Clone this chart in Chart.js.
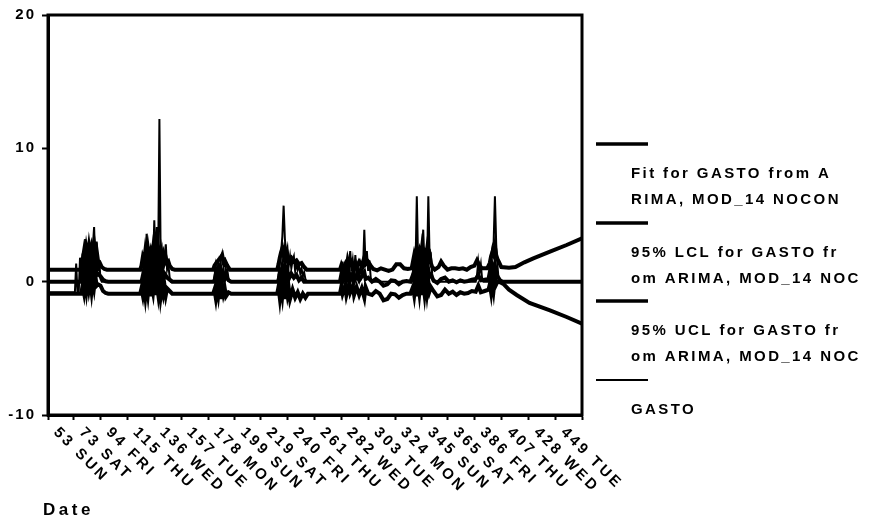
<!DOCTYPE html>
<html>
<head>
<meta charset="utf-8">
<script src="https://cdn.jsdelivr.net/npm/chart.js@4/dist/chart.umd.min.js"></script>
<style>
  body { margin: 0; background: #fff; }
</style>
</head>
<body>
<canvas id="grafico" width="889" height="524"></canvas>
<script>
// x ticks (day index + weekday)
const tickDays = [53, 73, 94, 115, 136, 157, 178, 199, 219, 240, 261, 282, 303, 324, 345, 365, 386, 407, 428, 449];
const tickLabels = ["53 SUN", "73 SAT", "94 FRI", "115 THU", "136 WED", "157 TUE", "178 MON", "199 SUN", "219 SAT", "240 FRI",
                    "261 THU", "282 WED", "303 TUE", "324 MON", "345 SUN", "365 SAT", "386 FRI", "407 THU", "428 WED", "449 TUE"];
const xMin = 53, xMax = 470;
const yTicks = [-10, 0, 10, 20];

// [day, value]
const fitPts = [[53,0],[79,0],[80,0.6],[81,0.2],[82,1.0],[83,0.4],[84,1.1],[85,0.5],[86,0.9],[87,0.3],[88,1.1],[89,0.6],[90,1.2],[91,0.5],[92,0.6],[94,0.4],[96,0.15],[98,0.03],[100,0],
  [126,0],[127,0.4],[128,0.9],[129,0.2],[130,1.0],[131,0.3],[132,1.1],[133,0.4],[134,0.9],[135,0.3],[136,1.0],[137,0.2],[138,0.9],[139,0.4],[140,1.0],[141,0.3],[142,0.7],[143,0.2],[144,0.6],[146,0.3],[148,0.15],[150,0],
  [183,0],[184,0.5],[185,0.1],[186,0.7],[187,0.3],[188,0.8],[189,0.2],[190,0.6],[191,0.2],[192,0.4],[194,0.1],[196,0],
  [233,0],[234,0.6],[235,0.2],[236,1.0],[237,0.4],[238,1.0],[239,0.3],[240,0.8],[241,0.2],[243,0.6],[245,0.3],[247,0.5],[249,0.1],[251,0.3],[253,0],
  [281,0],[282,0.5],[283,0],[285,0.4],[286,0.1],[288,0.7],[289,0.1],[291,0.6],[292,0],[294,0.5],[296,0.1],[298,0.4],[300,0.7],[301,0.2],[303,0.3],[306,0],[309,0.2],[312,0],[315,-0.3],[318,-0.2],[321,0.1],[324,0.05],[327,-0.2],[330,0],[333,0.05],[336,0],
  [338,0.5],[339,0.1],[340,0.9],[341,0.3],[342,1.1],[343,0.4],[344,1.0],[345,0.3],[346,1.1],[347,0.5],[348,1.0],[349,0.4],[350,0.9],[351,0.4],[352,0.5],[354,0.1],[357,-0.1],[360,0.2],[363,0.3],[366,0],[369,0.1],[372,-0.05],[375,0.1],[378,0],[381,0.05],[384,0.15],[387,0.2],[389,0.5],[391,0.1],[394,0.15],[397,0.2],
  [398,0.7],[399,0.2],[400,1.0],[401,0.5],[402,1.2],[403,0.6],[404,0.4],[406,0.1],[408,0],[470,0]];

const lclPts = [[53,-0.9],[79,-0.9],[80,-0.3],[81,-0.8],[82,0.2],[83,-0.6],[84,0.3],[85,-0.5],[86,0.1],[87,-0.7],[88,0.2],[89,-0.4],[90,0.4],[91,-0.3],[92,-0.2],[94,-0.3],[96,-0.7],[98,-0.85],[100,-0.9],
  [125,-0.9],[126,-0.5],[127,-1.0],[128,-0.3],[129,-1.1],[130,-0.2],[131,-0.9],[132,0.1],[133,-1.1],[134,-0.3],[135,-0.8],[136,0.2],[137,-1.0],[138,-0.2],[139,-0.9],[140,0.1],[141,-1.1],[142,-0.4],[143,-0.9],[144,-0.3],[145,-1.0],[146,-0.5],[148,-0.7],[150,-0.9],
  [182,-0.9],[183,-0.6],[184,-1.2],[185,-0.4],[186,-1.0],[187,-0.2],[188,-1.3],[189,-0.3],[190,-0.9],[191,-0.5],[192,-1.1],[194,-0.8],[196,-0.9],
  [232,-0.9],[233,-0.4],[234,-1.2],[235,-0.3],[236,-1.0],[237,0],[238,-1.3],[239,-0.4],[240,-1.0],[241,-0.5],[242,-1.3],[244,-0.6],[246,-1.2],[248,-0.8],[250,-1.3],[252,-0.9],[254,-1.2],[256,-0.9],
  [281,-0.9],[282,-0.4],[283,-0.9],[285,-0.3],[286,-1.0],[288,-0.2],[289,-0.8],[291,-0.3],[292,-1.0],[294,-0.4],[296,-1.0],[298,-0.5],[300,-1.2],[301,-0.4],[303,-0.9],[306,-1.0],[309,-0.7],[312,-0.9],[315,-1.4],[318,-1.3],[321,-0.9],[324,-0.95],[327,-1.2],[330,-1.0],[333,-0.9],[336,-0.9],
  [338,-0.4],[339,-1.0],[340,-0.2],[341,-1.1],[342,0],[343,-0.8],[344,0.2],[345,-1.0],[346,-0.1],[347,-0.9],[348,0.1],[349,-0.8],[350,0],[351,-0.7],[352,-0.4],[354,-0.7],[357,-1.1],[360,-1.0],[363,-0.6],[366,-0.9],[369,-0.75],[372,-1.0],[375,-0.8],[378,-0.9],[381,-0.85],[384,-0.7],[387,-0.75],[389,-0.3],[391,-0.8],[394,-0.7],[397,-0.6],
  [398,-0.2],[399,-0.8],[400,0.1],[401,-0.6],[402,0.3],[403,-0.2],[404,0],[406,-0.05],[409,-0.2],[413,-0.6],[419,-1.0],[429,-1.6],[445,-2.15],[458,-2.65],[470,-3.15]];

const uclPts = [[53,0.9],[79,0.9],[80,1.6],[81,2.2],[82,1.5],[83,2.4],[84,1.8],[85,2.6],[86,1.9],[87,2.5],[88,2.0],[89,2.8],[90,2.0],[91,2.3],[92,1.6],[93,1.5],[95,1.1],[97,0.95],[99,0.9],
  [125,0.9],[126,1.2],[127,1.8],[128,1.5],[129,2.3],[130,1.7],[131,2.5],[132,1.8],[133,2.2],[134,1.6],[135,2.4],[136,1.7],[137,2.1],[138,1.6],[139,2.2],[140,1.5],[141,2.3],[142,1.6],[143,2.0],[144,1.5],[145,1.8],[146,1.4],[147,1.5],[148,1.2],[150,0.95],[152,0.9],
  [182,0.9],[183,1.2],[185,1.5],[187,1.7],[189,2.0],[190,1.5],[191,1.6],[193,1.2],[195,0.9],
  [232,0.9],[233,1.3],[234,1.8],[235,2.2],[236,2.5],[237,2.0],[238,2.4],[239,1.7],[240,2.0],[241,1.6],[243,1.8],[245,1.5],[247,1.6],[249,1.3],[251,1.4],[253,1.1],[255,0.9],
  [281,0.9],[282,1.2],[283,0.9],[285,1.3],[286,1.0],[287,1.6],[288,1.2],[290,1.5],[291,1.0],[293,1.4],[294,1.1],[296,1.5],[298,1.2],[300,1.8],[301,1.3],[303,1.5],[305,1.2],[307,0.95],[310,0.85],[313,1.0],[316,0.9],[319,0.8],[322,0.9],[325,1.3],[328,1.3],[331,1.0],[334,0.95],[337,1.0],
  [338,1.5],[339,2.0],[340,1.6],[341,2.4],[342,1.8],[343,2.2],[344,1.7],[345,2.5],[346,1.8],[347,2.1],[348,1.7],[349,2.4],[350,1.8],[351,2.0],[352,1.4],[353,1.1],[355,0.9],[358,1.1],[360,1.5],[362,1.2],[365,0.9],[368,1.0],[371,1.0],[374,0.95],[377,1.0],[380,0.9],[383,1.1],[386,1.2],[388,1.6],[390,1.2],[392,1.0],[396,1.0],
  [398,1.4],[399,1.9],[400,2.2],[401,2.0],[402,2.6],[403,2.0],[404,1.7],[405,1.5],[407,1.1],[413,1.05],[418,1.1],[425,1.45],[432,1.75],[445,2.25],[458,2.75],[470,3.25]];

const gastoPts = [[53,-0.8],[74,-0.8],[75,1.35],[76,-0.8],[77,-0.8],[78,1.8],[79,0.2],[80,2.1],[81,0.6],[82,3.2],[83,1.2],[84,2.6],[85,1.0],[86,2.9],[87,1.4],[88,2.6],[89,4.1],[90,1.2],[91,3.0],[92,0.8],[93,1.6],[94,0.2],[95,0],
  [126,0],[127,0.4],[128,1.5],[129,0.6],[130,3.6],[131,1.0],[132,2.0],[133,0.7],[134,2.3],[135,1.2],[136,4.6],[137,1.5],[138,4.1],[139,1.3],[140,12.2],[141,1.6],[142,2.3],[143,0.9],[144,2.0],[145,2.8],[146,0.9],[147,1.3],[148,0.3],[149,0],
  [182,0],[183,0.4],[184,1.2],[185,0.5],[186,1.4],[187,0.8],[188,1.7],[189,2.1],[190,1.2],[191,1.5],[192,0.6],[193,0.9],[194,0.2],[195,0],
  [232,0],[233,0.5],[234,1.3],[235,2.2],[236,3.4],[237,5.7],[238,3.2],[239,2.0],[240,2.5],[241,1.2],[242,1.9],[243,1.0],[244,1.6],[245,1.9],[246,0.8],[247,1.4],[248,0.9],[249,1.2],[250,0.6],[251,1.0],[252,0.4],[253,0.7],[254,0.2],[255,0],
  [281,0],[282,0.3],[283,1.5],[284,0.4],[285,1.0],[286,0.2],[287,0.6],[288,1.2],[289,2.3],[290,0.8],[291,1.6],[292,0.5],[293,2.0],[294,0.6],[295,1.1],[296,0.3],[297,1.2],[298,0.5],[299,1.0],[300,3.9],[301,1.2],[302,2.3],[303,0.8],[304,1.6],[305,0.3],[306,0],
  [337,0],[338,0.8],[339,2.0],[340,1.2],[341,6.4],[342,1.5],[343,2.4],[344,1.0],[345,2.2],[346,3.9],[347,1.3],[348,2.3],[349,1.0],[350,6.4],[351,1.8],[352,2.0],[353,0.6],[354,0],
  [387,0],[388,0.5],[389,1.5],[390,0.7],[391,1.3],[392,0.2],[393,0],[397,0],[398,0.8],[399,1.9],[400,2.6],[401,3.0],[402,6.4],[403,2.8],[404,1.2],[405,0]];

const legendItems = [
  { lineY: 144, lines: ["Fit for GASTO from A", "RIMA, MOD_14 NOCON"], width: 3.5 },
  { lineY: 223, lines: ["95% LCL for GASTO fr", "om ARIMA, MOD_14 NOC"], width: 3.5 },
  { lineY: 301, lines: ["95% UCL for GASTO fr", "om ARIMA, MOD_14 NOC"], width: 3.5 },
  { lineY: 380, lines: ["GASTO"], width: 2 }
];

const FONT = "'Liberation Sans', Arial, sans-serif";

function toXY(pts) {
  return pts.map(p => ({ x: p[0], y: p[1] }));
}

const cornice = {
  id: "cornice",
  beforeDraw(chart) {
    chart.ctx.letterSpacing = "2px";
  },
  afterDraw(chart) {
    const ctx = chart.ctx;
    const a = chart.chartArea;
    ctx.save();
    ctx.strokeStyle = "#000";
    ctx.lineWidth = 3;
    ctx.strokeRect(a.left, a.top, a.right - a.left, a.bottom - a.top);

    // rotated x labels
    const sx = chart.scales.x;
    ctx.fillStyle = "#000";
    ctx.font = "bold 15px " + FONT;
    ctx.letterSpacing = "3px";
    ctx.textAlign = "left";
    ctx.textBaseline = "middle";
    for (let i = 0; i < tickDays.length; i++) {
      const px = sx.getPixelForValue(tickDays[i]);
      ctx.save();
      ctx.translate(px + 8, a.bottom + 15);
      ctx.rotate(Math.PI / 4);
      ctx.fillText(tickLabels[i], 0, 0);
      ctx.restore();
    }

    // axis title
    ctx.font = "bold 17px " + FONT;
    ctx.letterSpacing = "3.5px";
    ctx.fillText("Date", 43, 510);

    // legend
    ctx.font = "bold 15px " + FONT;
    ctx.letterSpacing = "2.4px";
    for (const it of legendItems) {
      ctx.beginPath();
      ctx.lineWidth = it.width;
      ctx.moveTo(596, it.lineY);
      ctx.lineTo(648, it.lineY);
      ctx.stroke();
      it.lines.forEach((t, k) => ctx.fillText(t, 631, it.lineY + 30 + k * 26));
    }
    ctx.restore();
  }
};

function serie(pts, w) {
  return {
    data: toXY(pts),
    borderColor: "#000",
    backgroundColor: "#000",
    borderWidth: w,
    pointRadius: 0,
    tension: 0,
    fill: false
  };
}

new Chart(document.getElementById("grafico"), {
  type: "line",
  data: {
    datasets: [
      serie(fitPts, 4),
      serie(lclPts, 4),
      serie(uclPts, 4),
      serie(gastoPts, 2)
    ]
  },
  options: {
    responsive: false,
    animation: false,
    layout: { padding: { top: 14, right: 307, left: 0, bottom: 0 } },
    plugins: { legend: { display: false }, tooltip: { enabled: false } },
    scales: {
      x: {
        type: "linear",
        min: xMin,
        max: xMax,
        afterBuildTicks: s => { s.ticks = tickDays.concat([xMax]).map(v => ({ value: v })); },
        afterFit: s => { s.height = 109; },
        ticks: { display: false },
        grid: { drawOnChartArea: false, drawTicks: true, tickLength: 5, tickWidth: 2, tickColor: "#000" },
        border: { display: true, color: "#000", width: 3 }
      },
      y: {
        min: -10,
        max: 20,
        afterBuildTicks: s => { s.ticks = yTicks.map(v => ({ value: v })); },
        afterFit: s => { s.width = 48; },
        ticks: {
          color: "#000",
          padding: 6,
          font: { family: FONT, size: 15, weight: "bold" }
        },
        grid: { drawOnChartArea: false, drawTicks: true, tickLength: 6, tickWidth: 2, tickColor: "#000" },
        border: { display: true, color: "#000", width: 3 }
      }
    }
  },
  plugins: [cornice]
});
</script>
</body>
</html>
